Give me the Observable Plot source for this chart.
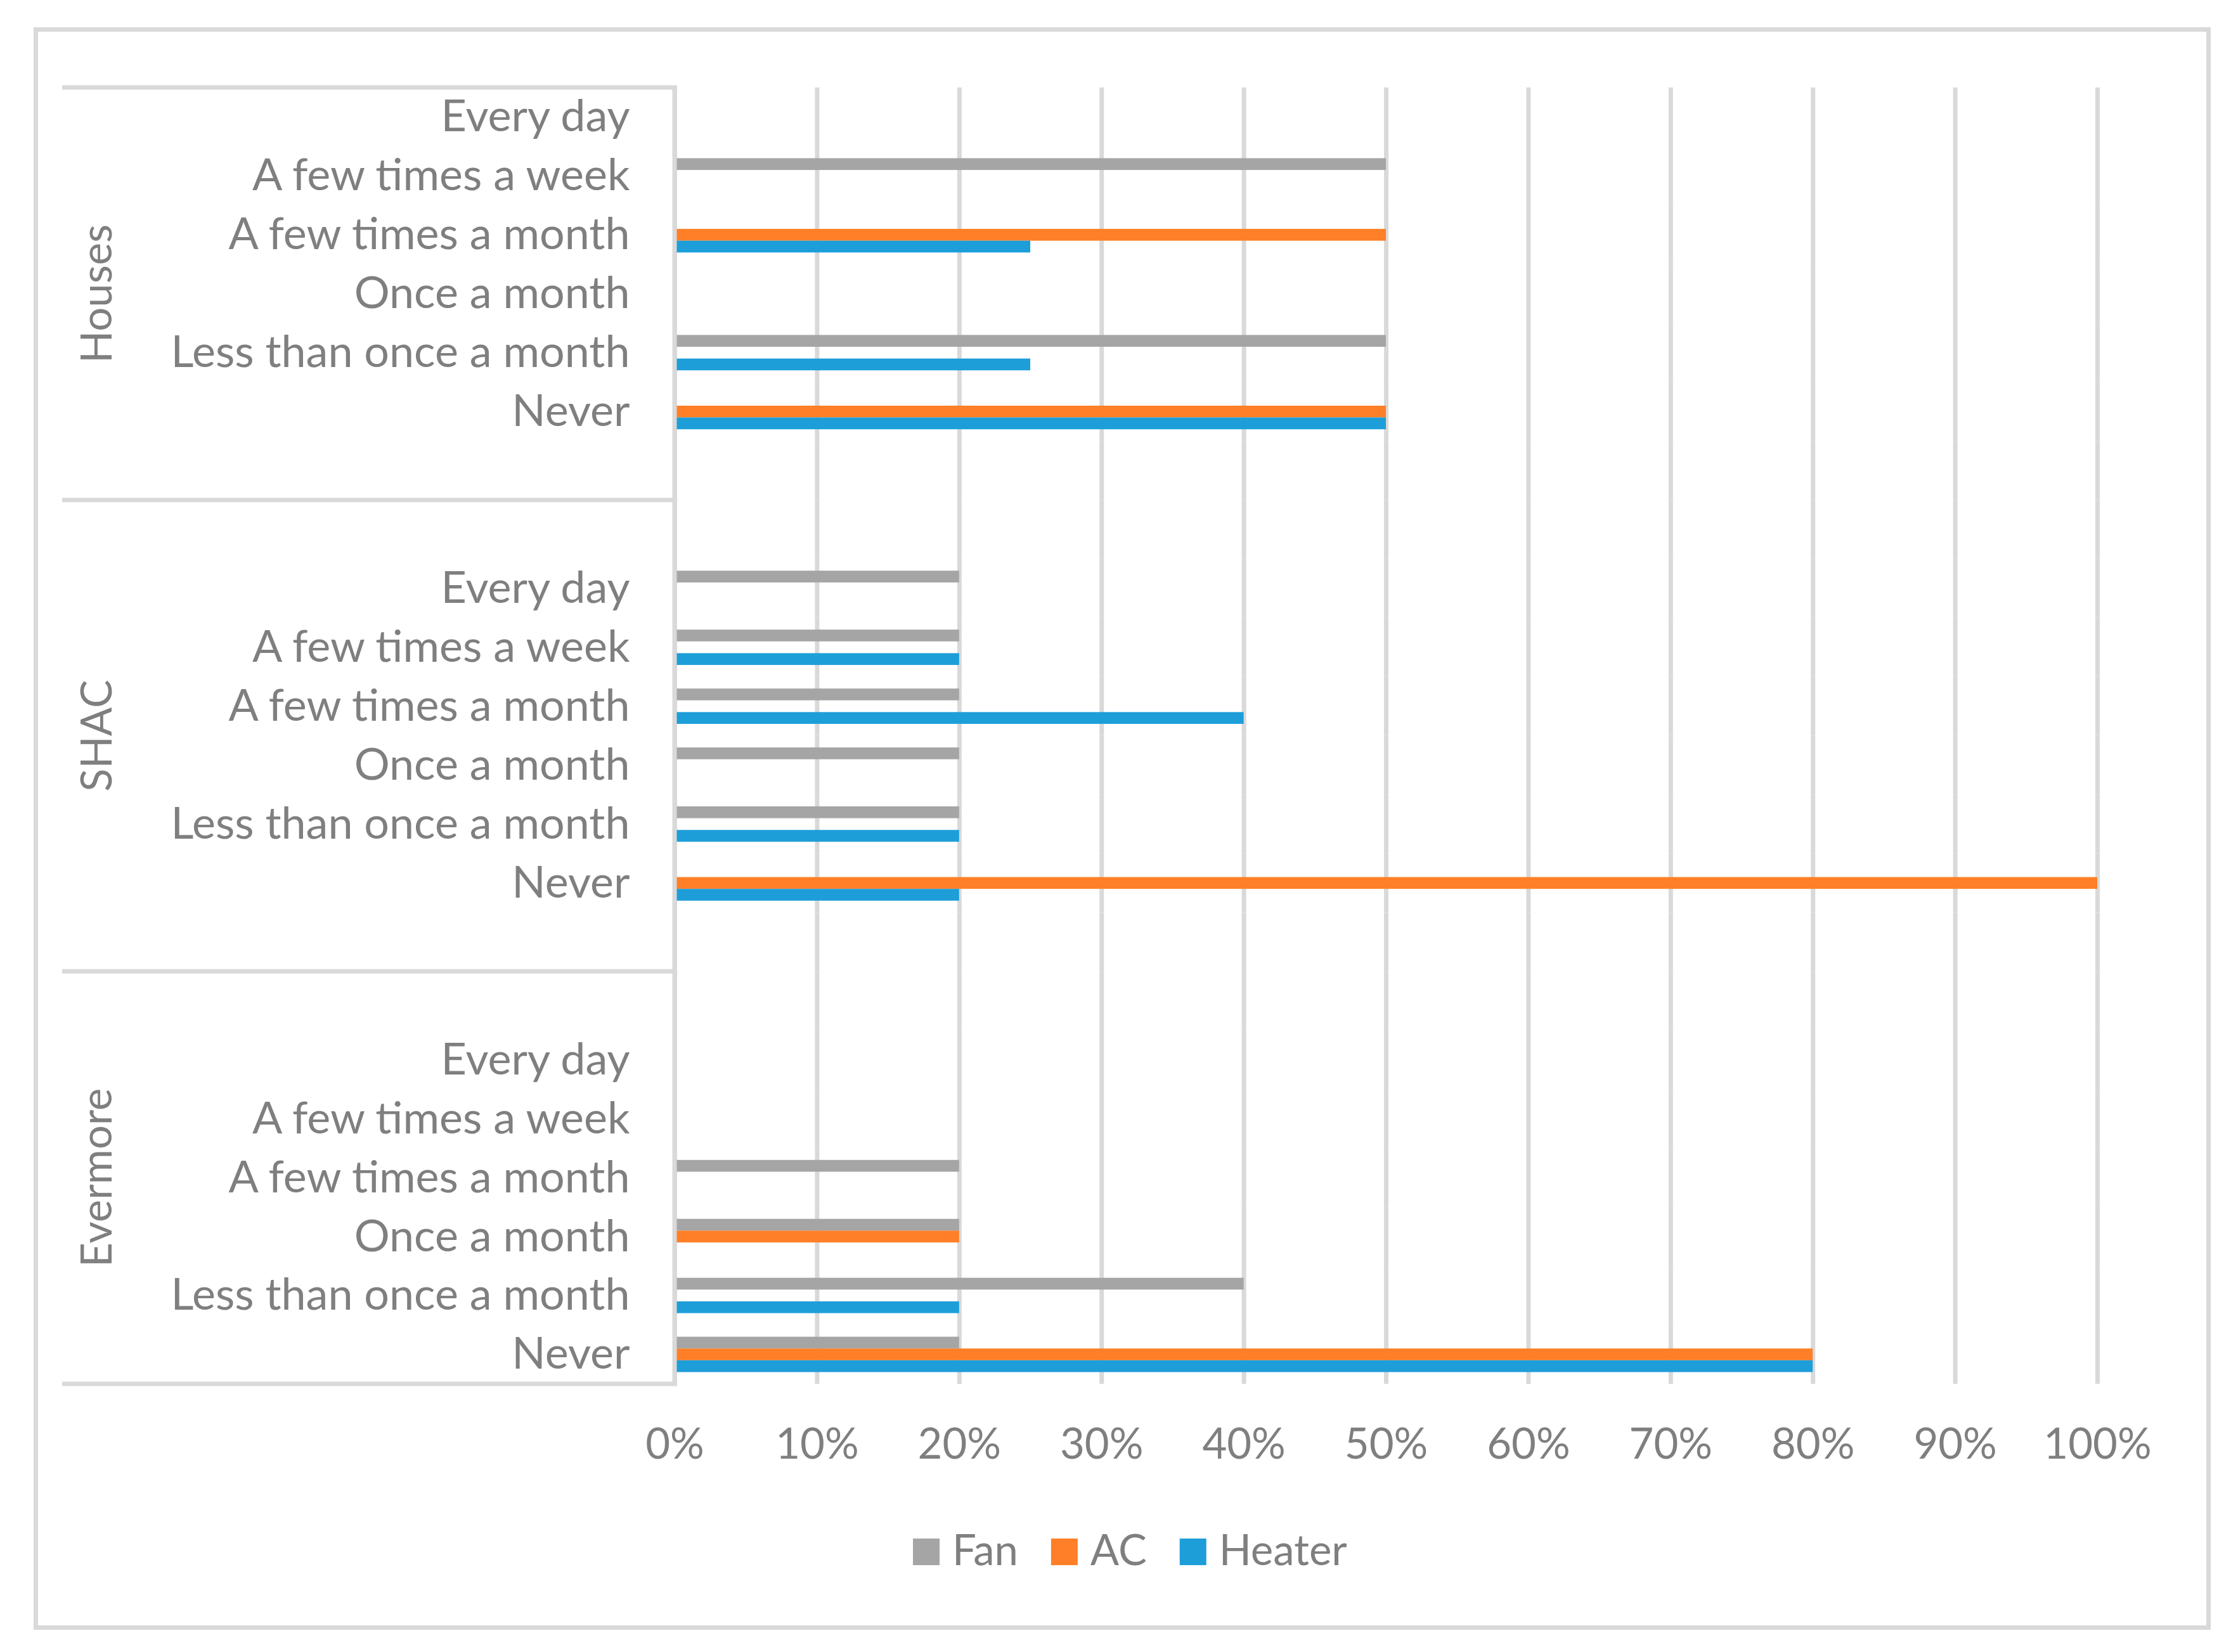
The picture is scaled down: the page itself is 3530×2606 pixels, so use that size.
<!DOCTYPE html>
<html>
<head>
<meta charset="utf-8">
<script src="https://cdn.jsdelivr.net/npm/d3@7"></script>
<script src="https://cdn.jsdelivr.net/npm/@observablehq/plot@0.6"></script>
<style>
  html, body { margin: 0; padding: 0; background: #fff; }
  #wrap { position: relative; width: 3530px; height: 2606px; background: #fff; overflow: hidden; }
  #frame { position: absolute; left: 53px; top: 43px; width: 3420px; height: 2514px; border: 7px solid #d9d9d9; }
  #chart { position: absolute; left: 0; top: 0; }
</style>
</head>
<body>
<div id="wrap"><div id="frame"></div><div id="chart"></div></div>
<script>
// ---- data ----
const categories = ["Every day", "A few times a week", "A few times a month", "Once a month", "Less than once a month", "Never"];
const groups = ["Houses", "SHAC", "Evermore"];
const series = ["Fan", "AC", "Heater"];
const seriesColors = ["#a5a5a5", "#fe7f27", "#1d9ed9"];
const xTicks = [0, 0.1, 0.2, 0.3, 0.4, 0.5, 0.6, 0.7, 0.8, 0.9, 1];

// category rows of each group as they appear in the source (blank rows included)
const housesRows = ["Every day", "A few times a week", "A few times a month", "Once a month", "Less than once a month", "Never", ""];
const shacRows = ["", "Every day", "A few times a week", "A few times a month", "Once a month", "Less than once a month", "Never", ""];
const evermoreRows = ["", "Every day", "A few times a week", "A few times a month", "Once a month", "Less than once a month", "Never"];

// values in category order
const housesFan    = [0, 0.50, 0, 0, 0.50, 0];
const housesAC     = [0, 0, 0.50, 0, 0, 0.50];
const housesHeater = [0, 0, 0.25, 0, 0.25, 0.50];
const shacFan      = [0.20, 0.20, 0.20, 0.20, 0.20, 0];
const shacAC       = [0, 0, 0, 0, 0, 1.00];
const shacHeater   = [0, 0.20, 0.40, 0, 0.20, 0.20];
const evermoreFan    = [0, 0, 0.20, 0.20, 0.40, 0.20];
const evermoreAC     = [0, 0, 0, 0.20, 0, 0.80];
const evermoreHeater = [0, 0, 0, 0, 0.20, 0.80];

// ---- build tables ----
const groupRows = {Houses: housesRows, SHAC: shacRows, Evermore: evermoreRows};
const groupValues = {
  Houses: {Fan: housesFan, AC: housesAC, Heater: housesHeater},
  SHAC: {Fan: shacFan, AC: shacAC, Heater: shacHeater},
  Evermore: {Fan: evermoreFan, AC: evermoreAC, Heater: evermoreHeater}
};
const slotKeys = [];
const labelOf = new Map();
const groupSlots = {};
for (const g of groups) {
  groupSlots[g] = [];
  groupRows[g].forEach((lab, i) => {
    const k = g + "|" + i;
    slotKeys.push(k); labelOf.set(k, lab); groupSlots[g].push(k);
  });
}
const bars = [];
for (const g of groups) {
  categories.forEach((c, j) => {
    const k = g + "|" + groupRows[g].indexOf(c);
    for (const s of series) {
      const v = groupValues[g][s][j];
      if (v > 0) bars.push({slot: k, series: s, value: v});
    }
  });
}
const gridData = slotKeys.flatMap(k => xTicks.map(t => ({slot: k, t})));

const TEXT = "#7f7f7f", LINE = "#d9d9d9";

const chart = Plot.plot({
  width: 3530,
  height: 2606,
  marginTop: 138,
  marginBottom: 423,
  marginLeft: 1064,
  marginRight: 222,
  style: {fontFamily: "Lato", fontSize: "67px", color: TEXT, background: "transparent", overflow: "visible"},
  x: {domain: [0, 1], ticks: xTicks, tickFormat: d3.format(".0%"), tickSize: 0, tickPadding: 70, label: null},
  y: {domain: series, paddingInner: 0, paddingOuter: 1, round: false, axis: null},
  fy: {domain: slotKeys, padding: 0, round: false, axis: null},
  color: {domain: series, range: seriesColors},
  marks: [
    Plot.gridX(gridData, {x: "t", fy: "slot", stroke: LINE, strokeOpacity: 1, strokeWidth: 7}),
    Plot.barX(bars, {fy: "slot", y: "series", x: "value", fill: "series"}),
    Plot.axisFy({anchor: "left", tickSize: 0, tickPadding: 71, tickFormat: k => labelOf.get(k), label: null, fontSize: 70})
  ]
});
document.getElementById("chart").appendChild(chart);

// ---- left category box and group labels, positioned from Plot's fy scale ----
const fy = chart.scale("fy");
const bw = fy.bandwidth;
const svg = d3.select(chart);
const g = svg.append("g");
const bounds = [fy.apply(groupSlots.Houses[0]), fy.apply(groupSlots.SHAC[0]), fy.apply(groupSlots.Evermore[0]),
                fy.apply(groupSlots.Evermore[groupSlots.Evermore.length - 1]) + bw];
for (const yb of bounds) {
  g.append("line").attr("x1", 98).attr("x2", 1068).attr("y1", yb).attr("y2", yb)
    .attr("stroke", LINE).attr("stroke-width", 7);
}
g.append("line").attr("x1", 1064).attr("x2", 1064).attr("y1", bounds[0] - 3).attr("y2", bounds[3] + 3)
  .attr("stroke", LINE).attr("stroke-width", 7);
groups.forEach((name, i) => {
  const yc = (bounds[i] + bounds[i + 1]) / 2;
  g.append("text").attr("transform", `translate(152,${yc}) rotate(-90)`)
    .attr("text-anchor", "middle").attr("dy", "0.36em")
    .attr("fill", TEXT).attr("font-size", 67).attr("font-family", "Lato").text(name);
});

// ---- legend ----
const color = chart.scale("color");
const lg = svg.append("g").attr("font-family", "Lato").attr("font-size", 67).attr("fill", TEXT).attr("text-anchor", "start");
let cx = 1440;
series.forEach((s, i) => {
  lg.append("rect").attr("x", cx).attr("y", 2427).attr("width", 42).attr("height", 42).attr("fill", color.apply(s));
  const t = lg.append("text").attr("x", cx + 62).attr("y", 2469).text(s);
  cx = cx + 62 + t.node().getComputedTextLength() + 52;
});
</script>
</body>
</html>
